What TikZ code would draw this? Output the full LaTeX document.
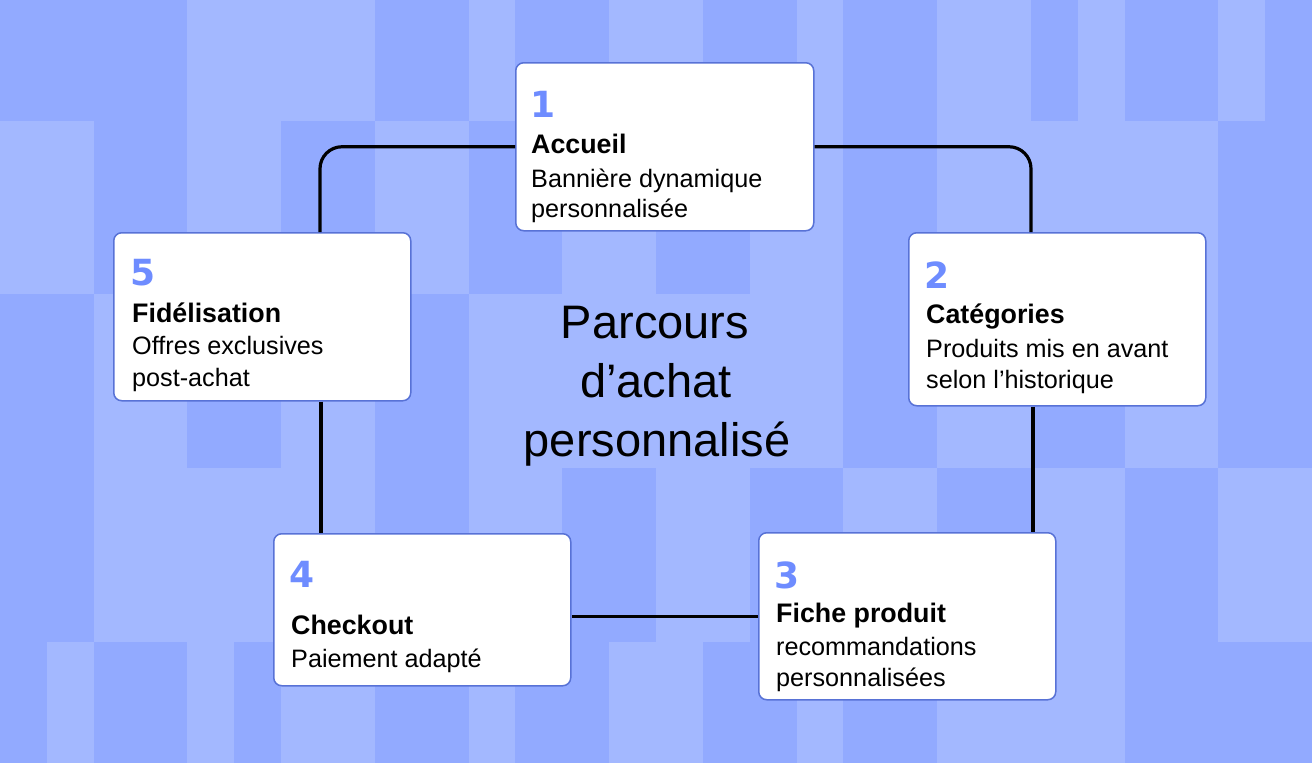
\documentclass[tikz,border=0pt]{standalone}
\usepackage{fontspec}
\setmainfont{Liberation Sans}
\newfontfamily\numfont{DejaVu Sans}
\usetikzlibrary{calc}
\definecolor{bglight}{RGB}{163,184,255}
\definecolor{bgdark}{RGB}{146,170,255}
\definecolor{boxline}{RGB}{88,114,214}
\definecolor{numblue}{RGB}{110,140,255}
\begin{document}
\begin{tikzpicture}[x=1pt,y=-1pt,
  box/.style={draw=boxline, line width=1.5pt, fill=white, rounded corners=8pt, anchor=north west, inner sep=0pt},
  num/.style={anchor=base west, inner sep=0pt, text=numblue, font=\numfont\bfseries\fontsize{36}{36}\selectfont},
  ttl/.style={anchor=base west, inner sep=0pt, font=\bfseries\fontsize{26.8}{26.8}\selectfont},
  dsc/.style={anchor=base west, inner sep=0pt, font=\fontsize{25.2}{25.2}\selectfont},
  big/.style={anchor=base, inner sep=0pt, font=\fontsize{47}{47}\selectfont},
  conn/.style={line width=3.2pt, rounded corners=22pt}]
\useasboundingbox (0,0) rectangle (1312,763);
\fill[bglight] (0,0) rectangle (1312,763);
\foreach \t/\b/\segs in {
  0/121/{0/4,8/10,11/13,15/17,18/20,22/23,24/26,27/28},
  121/294/{2/4,6/8,10/12,14/16,18/20,26/28},
  294/468/{0/2,4/6,8/10,18/20,22/24,26/28},
  468/642/{0/2,8/10,12/14,16/18,20/22,24/26},
  642/763/{0/1,2/4,5/6,8/10,11/13,15/17,18/20,24/28}} {
  \foreach \a/\c in \segs {
    \fill[bgdark] (\a*46.857,\t) rectangle (\c*46.857,\b);
  }
}
% boxes
\node[box, minimum width=298pt, minimum height=168pt] (b1) at (515,62) {};
\node[box, minimum width=297pt, minimum height=173pt] (b2) at (908,232) {};
\node[box, minimum width=297pt, minimum height=167pt] (b3) at (758,532) {};
\node[box, minimum width=297pt, minimum height=152pt] (b4) at (273,533) {};
\node[box, minimum width=297pt, minimum height=168pt] (b5) at (113,232) {};
% connectors
\draw[conn] (b1.west) -| ($(b5.north west)+(207,0)$);
\draw[conn] (b1.east) -| ($(b2.north west)+(123,0)$);
\draw[conn] ($(b2.south west)+(125,0)$) coordinate (c23) -- (c23 |- b3.north);
\draw[conn] (b3.west) -- (b3.west -| b4.east);
\draw[conn] ($(b5.south west)+(208,0)$) coordinate (c54) -- (c54 |- b4.north);
% box 1
\node[num] (n1) at (530,117) {1};
\node[ttl] (t1) at (531,153.5) {Accueil};
\node[dsc] (d1a) at (531,187) {Bannière dynamique};
\node[dsc] (d1b) at (531,217) {personnalisée};
% box 2
\node[num] (n2) at (924,288.5) {2};
\node[ttl] (t2) at (926,323.5) {Catégories};
\node[dsc] (d2a) at (926,357) {Produits mis en avant};
\node[dsc] (d2b) at (926,388) {selon l’historique};
% box 3
\node[num] (n3) at (774,588) {3};
\node[ttl] (t3) at (776,622) {Fiche produit};
\node[dsc] (d3a) at (776,655) {recommandations};
\node[dsc] (d3b) at (776,686) {personnalisées};
% box 4
\node[num] (n4) at (289,587) {4};
\node[ttl] (t4) at (291,634) {Checkout};
\node[dsc] (d4a) at (291,667) {Paiement adapté};
% box 5
\node[num] (n5) at (130,285) {5};
\node[ttl] (t5) at (132,322) {Fidélisation};
\node[dsc] (d5a) at (132,354) {Offres exclusives};
\node[dsc] (d5b) at (132,386) {post-achat};
% centre title
\node[big] (ta) at (655,338) {Parcours};
\node[big] (tb) at (656,397) {d’achat};
\node[big] (tc) at (657,456) {personnalisé};
\end{tikzpicture}
\end{document}
